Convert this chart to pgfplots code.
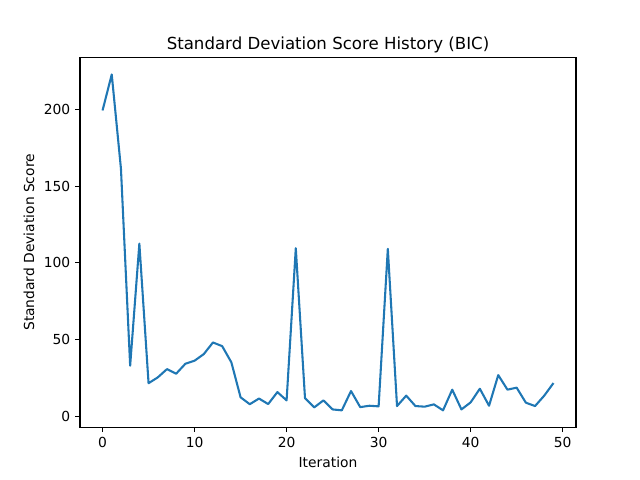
\documentclass[border=0pt]{standalone}
\usepackage{fontspec}
\setmainfont{DejaVu Sans}
\usepackage{pgfplots}
\pgfplotsset{compat=1.18}
\definecolor{mplblue}{HTML}{1F77B4}
\begin{document}
\begin{tikzpicture}
\begin{axis}[
  name=ax,
  at={(0,0)}, anchor=south west,
  scale only axis,
  width=4.96in, height=3.696in,
  xmin=-2.45, xmax=51.45,
  ymin=-7.2, ymax=234,
  xtick={0,10,20,30,40,50},
  ytick={0,50,100,150,200},
  tick align=outside,
  major tick length=3.5pt,
  tick style={black, line width=0.8pt},
  axis line style={line width=0.8pt},
  xtick pos=bottom, ytick pos=left,
  /pgf/number format/assume math mode=true,
  ticklabel style={font=\fontsize{10}{12}\selectfont},
  label style={font=\fontsize{10}{12}\selectfont},
  title style={font=\fontsize{12}{14}\selectfont, yshift=-6pt},
  xlabel={Iteration},
  ylabel={Standard Deviation Score},
  title={Standard Deviation Score History (BIC)},
  xlabel style={yshift=0pt},
  ylabel style={yshift=0pt},
]
\addplot[mplblue, line width=1.5pt, line join=round] coordinates {
(0,199.5) (1,223) (2,161.5) (3,32.9) (4,112.6) (5,21.5) (6,25.3) (7,30.7) (8,27.7) (9,34.2)
(10,36.2) (11,40.5) (12,48.1) (13,45.7) (14,35.1) (15,12.3) (16,7.8) (17,11.5) (18,7.9) (19,15.7)
(20,10.3) (21,109.6) (22,11.8) (23,5.7) (24,10.3) (25,4.4) (26,3.8) (27,16.4) (28,5.9) (29,6.8)
(30,6.4) (31,109.2) (32,6.6) (33,13.4) (34,6.6) (35,6.2) (36,7.7) (37,3.8) (38,17.3) (39,4.4)
(40,9.0) (41,17.9) (42,6.8) (43,26.8) (44,17.3) (45,18.6) (46,8.8) (47,6.6) (48,13.4) (49,21.6)
};
\end{axis}
\pgfresetboundingbox
\path (ax.south west) ++(-0.8in,-0.528in) rectangle ++(6.4in,4.8in);
\end{tikzpicture}
\end{document}
